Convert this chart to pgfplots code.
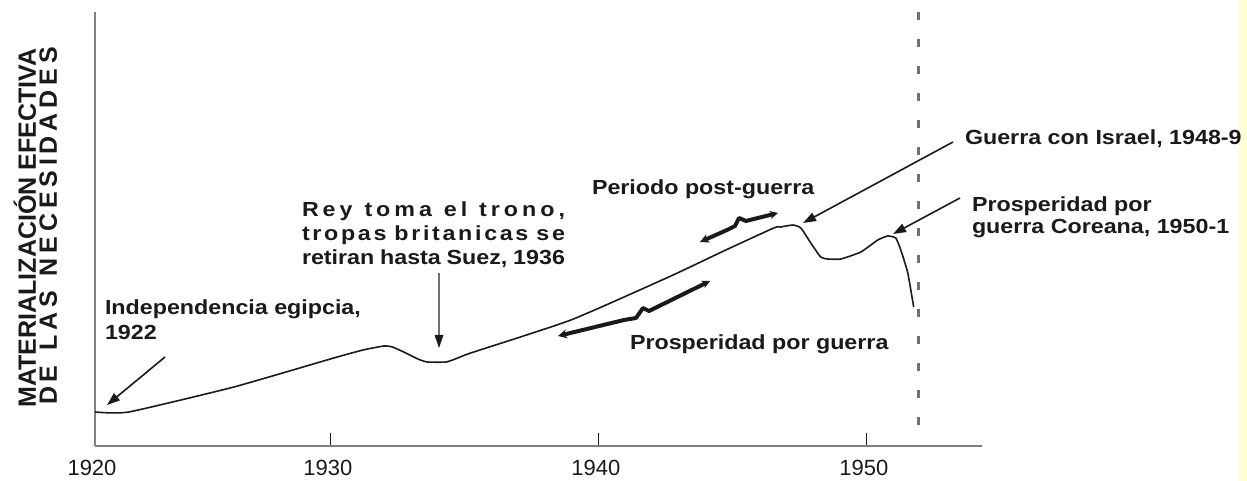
\documentclass[border=0pt]{standalone}
\usepackage{fontspec}
\setmainfont{Liberation Sans}
\newfontfamily\lab[FakeStretch=1.14]{Liberation Sans}
\usepackage{pgfplots}
\pgfplotsset{compat=1.18}
\usetikzlibrary{arrows.meta}
\definecolor{axgray}{HTML}{808080}
\definecolor{ink}{HTML}{1A1A1A}
\definecolor{dashgray}{HTML}{707070}
\definecolor{paleyel}{HTML}{FFFFD2}

\pgfplotstableread{
year  value
1921.2  34
1922.46 34
1926.38 59
1930.11 88
1931.2  96
1931.98 100
1932.3  99
1932.72 94
1933.25 87
1933.6  84
1934.3  84
1934.74 88
1935.22 93
1938.96 126
1942.69 170
1944.66 195
1946.53 218
1946.79 219
1947.24 221
1947.54 218
1947.91 203
1948.28 189
1948.54 187
1949.03 187
1949.78 194
1950.41 206
1950.78 210
1951.08 208
1951.27 196
1951.53 173
1951.75 139
}\needs

\newcommand{\wsp}{\hfill\hfill\hfill}
\newcommand{\lsp}{\hfill}

\begin{document}
\begin{tikzpicture}
\begin{axis}[
  scale only axis, width=443.5pt, height=217pt,
  xmin=1921.2, xmax=1954.3, ymin=0, ymax=434,
  axis x line=bottom, axis y line=left,
  axis line style={-, axgray, line width=1.2pt},
  xtick={1921.2,1930,1940,1950},
  xticklabels={1920,1930,1940,1950},
  ytick=\empty,
  tick align=inside, major tick length=6.5pt,
  xtick style={ink, line width=0.5pt},
  xticklabel style={font=\fontsize{11}{13}\selectfont, color=ink, yshift=-3.5pt, xshift=-1.5pt},
  /pgf/number format/assume math mode=true,
]
\addplot[dashgray, line width=1.3pt, dash pattern=on 4pt off 9.5pt]
  coordinates {(1951.94,434) (1951.94,19)};
\addplot[ink, line width=0.8pt, smooth, tension=0.3] table[x=year, y=value] {\needs};
\end{axis}

% annotations, in pixel units of the 1247x481 frame
\begin{scope}[shift={(-47.5pt,223pt)}, x=0.5pt, y=-0.5pt,
  every node/.style={inner sep=0pt, outer sep=0pt, text=ink},
  arr/.style={ink, line width=0.8pt, -{Triangle[length=6.5pt, width=4.5pt]}},
  brace/.style={ink, line width=2pt, line cap=round, line join=round,
    {Stealth[length=4.5pt, width=4.5pt]}-{Stealth[length=4pt, width=4pt]}}]
  \fill[paleyel] (1239,0) rectangle (1247,481);

  % y label
  \node[rotate=90, anchor=base, font=\fontsize{12.5}{14}\selectfont\bfseries]
    at (36,228) {MATERIALIZACIÓN EFECTIVA};
  \node[rotate=90, anchor=base, font=\fontsize{12.5}{14}\selectfont\bfseries]
    at (57,226) {\makebox[179pt][s]{D\lsp E\wsp L\lsp A\lsp S\wsp N\lsp E\lsp C\lsp E\lsp S\lsp I\lsp D\lsp A\lsp D\lsp E\lsp S}};

  \begin{scope}[every node/.append style={font=\lab\fontsize{10.2}{12}\selectfont\bfseries, anchor=base west}]
    \node at (105,315) {Independencia egipcia,};
    \node at (105,340) {1922};
    \node at (302,217) {\makebox[131.5pt][s]{R\lsp e\lsp y\wsp t\lsp o\lsp m\lsp a\wsp e\lsp l\wsp t\lsp r\lsp o\lsp n\lsp o\lsp ,}};
    \node at (302,241) {\makebox[131.5pt][s]{t\lsp r\lsp o\lsp p\lsp a\lsp s\wsp b\lsp r\lsp i\lsp t\lsp a\lsp n\lsp i\lsp c\lsp a\lsp s\wsp s\lsp e}};
    \node at (302,265) {\makebox[131.5pt][s]{retiran hasta Suez, 1936}};
    \node at (592,195) {Periodo post-guerra};
    \node at (630,350) {Prosperidad por guerra};
    \node at (965,145) {Guerra con Israel, 1948-9};
    \node at (972,212) {Prosperidad por};
    \node at (972,234) {guerra Coreana, 1950-1};
  \end{scope}

  \draw[arr] (165,357) -- (107,405);
  \draw[dashgray, line width=1pt] (439,273) -- (439,337);
  \fill[ink] (434.5,335) -- (443.5,335) -- (439,348) -- cycle;
  \draw[arr] (953,142) -- (803,223);
  \draw[arr] (960,198) -- (893,234);

  \draw[brace] (700,242) -- (727,230) -- (735,226) -- (739,218) -- (746,221) -- (778,213);
  \draw[brace] (558,336) -- (624,320) -- (636,318) -- (643,308) -- (649,311) -- (710,281);
\end{scope}
\pgfresetboundingbox
\path[use as bounding box] (-47.5pt,223pt) rectangle ++(623.5pt,-240.5pt);
\end{tikzpicture}
\end{document}
